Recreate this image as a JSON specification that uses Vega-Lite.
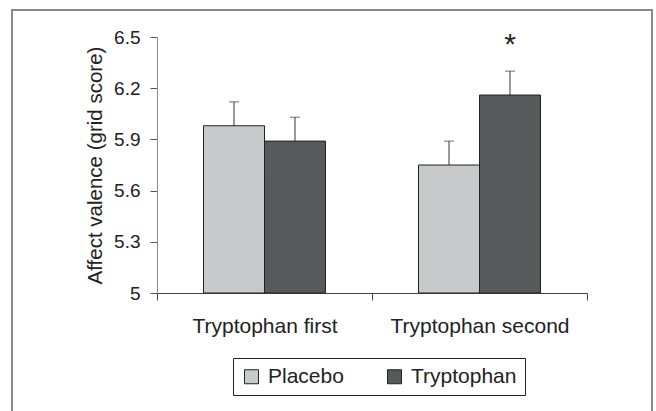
{
  "$schema": "https://vega.github.io/schema/vega-lite/v6.json",
  "autosize": "none",
  "width": 640,
  "height": 402,
  "padding": {"left": 12, "top": 10, "right": 4, "bottom": -1},
  "background": "white",
  "config": {
    "view": {"stroke": "#8a8a8a", "strokeWidth": 2},
    "font": "Liberation Sans"
  },
  "data": {
    "values": [
      {"order": "Tryptophan first", "condition": "Placebo", "mean": 5.98, "upper": 6.12, "sig": ""},
      {"order": "Tryptophan first", "condition": "Tryptophan", "mean": 5.89, "upper": 6.03, "sig": ""},
      {"order": "Tryptophan second", "condition": "Placebo", "mean": 5.75, "upper": 5.89, "sig": ""},
      {"order": "Tryptophan second", "condition": "Tryptophan", "mean": 6.16, "upper": 6.30, "sig": "*"}
    ]
  },
  "encoding": {
    "x": {
      "field": "order",
      "type": "nominal",
      "sort": null,
      "scale": {"paddingInner": 0, "paddingOuter": 0, "range": [145, 575]},
      "axis": {
        "title": null,
        "offset": -119,
        "labelAngle": 0,
        "labelFontSize": 21,
        "labelColor": "#222",
        "tickSize": 7,
        "labelPadding": 15,
        "tickBand": "extent",
        "domainColor": "#444",
        "tickColor": "#444"
      }
    },
    "xOffset": {
      "field": "condition",
      "type": "nominal",
      "sort": ["Placebo", "Tryptophan"],
      "scale": {"paddingInner": 0, "paddingOuter": 0.7623}
    }
  },
  "layer": [
    {
      "mark": {"type": "bar", "stroke": "#222", "strokeWidth": 1},
      "encoding": {
        "y": {
          "field": "mean",
          "type": "quantitative",
          "scale": {"domain": [5, 6.5], "zero": false, "nice": false, "range": [283, 27]},
          "axis": {
            "offset": -145,
            "values": [5, 5.3, 5.6, 5.9, 6.2, 6.5],
            "format": ".1~f",
            "grid": false,
            "tickSize": 7,
            "labelFontSize": 19,
            "labelPadding": 10,
            "labelColor": "#222",
            "domainColor": "#8c8c8c",
            "tickColor": "#555",
            "title": "Affect valence (grid score)",
            "titleFontSize": 20.5,
            "titleFontWeight": "normal",
            "titleColor": "#222",
            "titlePadding": 8
          }
        },
        "y2": {"datum": 5},
        "color": {
          "field": "condition",
          "type": "nominal",
          "scale": {"domain": ["Placebo", "Tryptophan"], "range": ["#c8c9cb", "#58595b"]},
          "legend": {
            "title": null,
            "orient": "none",
            "legendX": 221,
            "legendY": 348,
            "direction": "horizontal",
            "symbolType": "square",
            "symbolSize": 196,
            "symbolStrokeColor": "#222",
            "symbolStrokeWidth": 1,
            "symbolOpacity": 1,
            "labelFontSize": 21,
            "labelColor": "#222",
            "labelOffset": 6,
            "columnPadding": 40,
            "padding": 8,
            "strokeColor": "#222"
          }
        }
      }
    },
    {
      "mark": {"type": "rule", "color": "#333", "strokeWidth": 1},
      "encoding": {
        "y": {"field": "mean", "type": "quantitative"},
        "y2": {"field": "upper"}
      }
    },
    {
      "mark": {"type": "tick", "color": "#333", "size": 10, "thickness": 1},
      "encoding": {
        "y": {"field": "upper", "type": "quantitative"}
      }
    },
    {
      "transform": [{"filter": "datum.sig != ''"}],
      "mark": {"type": "text", "dy": -17, "fontSize": 30, "baseline": "alphabetic", "color": "#222"},
      "encoding": {
        "y": {"field": "upper", "type": "quantitative"},
        "text": {"field": "sig"}
      }
    }
  ]
}
